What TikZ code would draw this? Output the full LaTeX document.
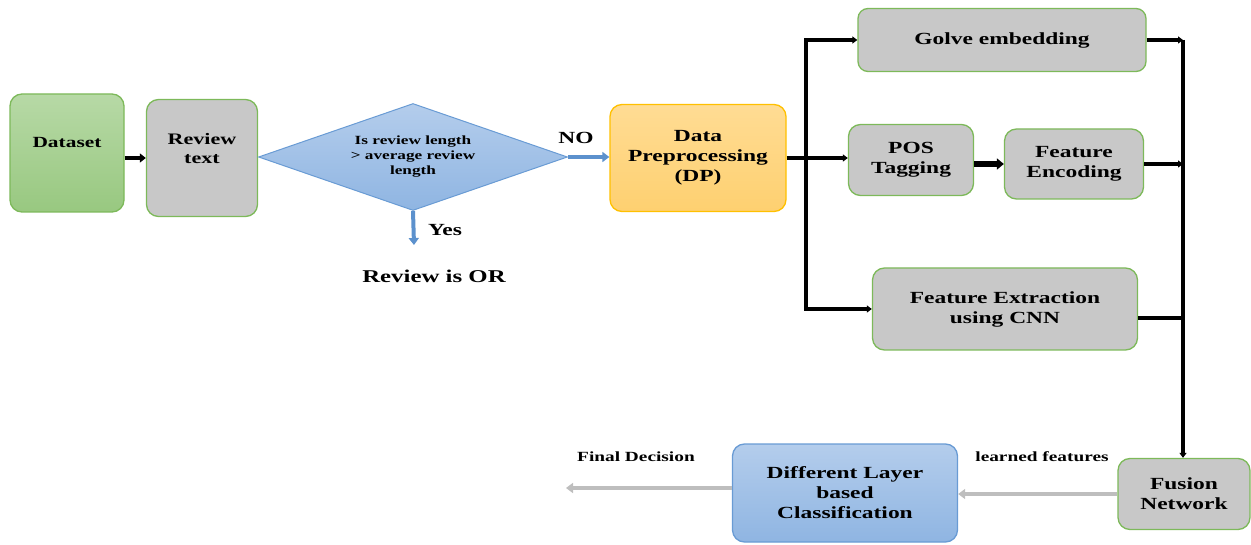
\documentclass[tikz,border=0pt]{standalone}
\usepackage{fontspec}
\setmainfont[FakeStretch=1.38]{Liberation Serif}
\usetikzlibrary{positioning}
\usetikzlibrary{calc}
\usetikzlibrary{shapes.geometric}
\usetikzlibrary{arrows.meta}

\definecolor{boxline}{RGB}{125,185,90}
\definecolor{boxgray}{RGB}{200,200,200}
\definecolor{greentop}{RGB}{183,217,166}
\definecolor{greenbot}{RGB}{152,200,128}
\definecolor{orangetop}{RGB}{255,220,148}
\definecolor{orangebot}{RGB}{254,208,112}
\definecolor{orangeline}{RGB}{255,192,0}
\definecolor{bluetop}{RGB}{180,205,236}
\definecolor{bluebot}{RGB}{143,181,226}
\definecolor{blueline}{RGB}{105,155,212}
\definecolor{arrowblue}{RGB}{92,145,205}
\definecolor{arrowgray}{RGB}{190,190,190}

\tikzset{
    box/.style={draw=boxline, line width=1.3pt, rounded corners=12pt, align=center, font=\bfseries\fontsize{17}{20}\selectfont},
    graybox/.style={box, fill=boxgray},
    greenbox/.style={box, top color=greentop, bottom color=greenbot},
    orangebox/.style={box, draw=orangeline, top color=orangetop, bottom color=orangebot},
    bluebox/.style={box, draw=blueline, top color=bluetop, bottom color=bluebot},
    decision/.style={diamond, aspect=2.9, draw=blueline, line width=1pt, top color=bluetop, bottom color=bluebot, inner sep=0pt, align=center, font=\bfseries\fontsize{12.5}{15}\selectfont},
    lbl/.style={font=\bfseries\fontsize{17}{20}\selectfont},
    smalllbl/.style={font=\bfseries\fontsize{14}{16}\selectfont},
    blackarrow/.style={line width=4pt, -{Triangle[length=6pt,width=9pt]}},
    thickarrow/.style={line width=5.5pt, -{Triangle[length=7pt,width=11pt]}},
    busline/.style={line width=3.5pt},
    busarrow/.style={line width=3.5pt, -{Triangle[length=5pt,width=7pt]}},
    bluearrow/.style={line width=4pt, arrowblue, -{Triangle[length=7pt,width=10pt]}},
    grayarrow/.style={line width=4pt, arrowgray, -{Triangle[length=7pt,width=10pt]}}
}

\begin{document}
\begin{tikzpicture}[x=1pt,y=-1pt]
    \useasboundingbox (0,0) rectangle (1251,545);
    %Dataset
    \node[greenbox, minimum width=114pt, minimum height=118pt, text depth=22pt, font=\bfseries\fontsize{15.5}{19}\selectfont] at (67,153) (data) {Dataset};
    %Review text
    \node[graybox, minimum width=111pt, minimum height=117pt, text depth=20pt, font=\bfseries\fontsize{16}{19}\selectfont] at (202,158) (review) {Review\\text};
    %Length check
    \node[decision, minimum width=309pt, minimum height=107pt] at (413,157) (check) {Is review length\\> average review\\length};
    %Data preprocessing
    \node[orangebox, minimum width=176pt, minimum height=107pt] at (698,158) (dp) {Data\\Preprocessing\\(DP)};
    %Golve
    \node[graybox, rounded corners=10pt, minimum width=288pt, minimum height=63pt] at (1002,40) (golve) {Golve embedding};
    %POS
    \node[graybox, minimum width=125pt, minimum height=71pt] at (911,160) (pos) {POS\\Tagging};
    %Feature encoding
    \node[graybox, minimum width=139pt, minimum height=70pt] at (1074,164) (enc) {Feature\\Encoding};
    %CNN
    \node[graybox, minimum width=265pt, minimum height=82pt] at (1005,309) (cnn) {Feature Extraction\\using CNN};
    %Fusion
    \node[graybox, minimum width=132pt, minimum height=71pt] at (1184,494) (fusion) {Fusion\\Network};
    %Classification
    \node[bluebox, minimum width=225pt, minimum height=98pt] at (845,493) (dlc) {Different Layer\\based\\Classification};

    %Labels
    \node[lbl] at (576,138) (no) {NO};
    \node[lbl] at (445,230) (yes) {Yes};
    \node[lbl, font=\bfseries\fontsize{18}{21}\selectfont] at (434,276) (or) {Review is OR};
    \node[smalllbl] at (1042,457) (learned) {learned features};
    \node[smalllbl] at (636,457) (final) {Final Decision};

    %Free ends
    \coordinate (yesend) at (414,245);
    \coordinate (splitL) at (806,158);
    \coordinate (busR) at (1183,40);
    \coordinate (decision) at (566,488);




    %Dataset zu Review
    \draw[blackarrow] (data.east |- review.west) -- (review.west);
    %NO
    \draw[bluearrow] (check.east) -- (check.east -| dp.west);
    %Yes
    \draw[bluearrow] (check.south) -- (yesend);
    %DP zu Verteiler
    \draw[busline] (dp.east) -- (splitL);
    \draw[busarrow] (splitL) |- (golve.west);
    \draw[busarrow] (splitL) -- (splitL -| pos.west);
    \draw[busarrow] (splitL) |- (cnn.west);
    %POS zu Encoding
    \draw[thickarrow] (pos.east |- enc.west) -- (enc.west);
    %Sammelschiene
    \draw[busarrow] (golve.east) -- (golve.east -| busR);
    \draw[busarrow] (enc.east) -- (enc.east -| busR);
    \draw[busline] ([yshift=-9pt]cnn.east) -- ([yshift=-9pt]cnn.east -| busR);
    \draw[busarrow] (busR) -- (busR |- fusion.north);
    %Fusion zu Classification
    \draw[grayarrow] (fusion.west) -- (fusion.west -| dlc.east);
    %Final decision
    \draw[grayarrow] ([yshift=5pt]dlc.west) -- (decision);

\end{tikzpicture}
\end{document}
